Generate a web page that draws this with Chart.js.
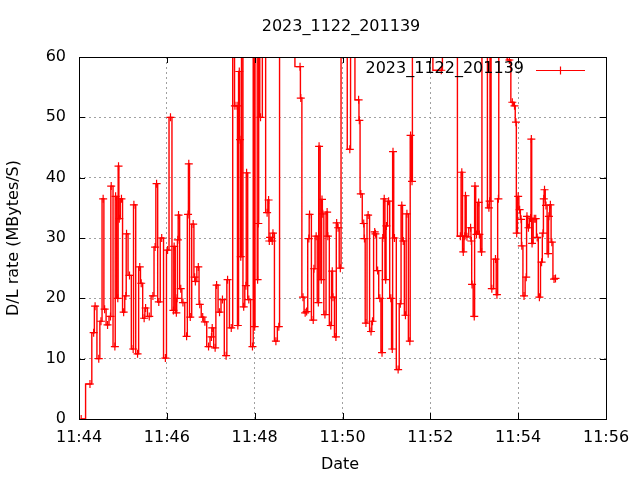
<!DOCTYPE html>
<html>
<head>
<meta charset="utf-8">
<script src="https://cdn.jsdelivr.net/npm/chart.js@4/dist/chart.umd.min.js"></script>
<style>
  html, body { margin: 0; padding: 0; background: #fff; }
  #wrap { width: 640px; height: 480px; }
</style>
</head>
<body>
<div id="wrap"><canvas id="c" width="640" height="480"></canvas></div>
<script>
// gnuplot-style throughput plot, one run

const TITLE = '2023_1122_201139';
const X_TICK_LABELS = ['11:44', '11:46', '11:48', '11:50', '11:52', '11:54', '11:56'];
const Y_TICKS = [0, 10, 20, 30, 40, 50, 60];

// seconds after 11:44:00
const times = [
  3, 15, 20, 22, 27, 30, 33, 35, 39, 43, 44, 49, 50, 53, 54, 55, 58, 61, 64, 65,
  69, 74, 75, 80, 83, 85, 89, 91, 96, 101, 104, 106, 109, 113, 118, 121, 125, 129, 130, 133,
  134, 135, 136, 139, 142, 147, 149, 150, 152, 156, 158, 159, 163, 165, 169, 172, 177, 181, 182, 186,
  188, 192, 196, 201, 203, 208, 212, 213, 216, 217, 219, 220, 221, 223, 225, 228, 229, 232, 237, 239,
  240, 241, 242, 243, 244, 245, 246, 248, 253, 257, 259, 260, 261, 264, 265, 269, 273, 275, 288, 302,
  303, 306, 309, 311, 314, 315, 320, 321, 324, 327, 328, 331, 332, 333, 336, 339, 340, 344, 346, 347,
  351, 352, 354, 357, 359, 363, 370, 372, 382, 383, 385, 389, 390, 392, 395, 399, 401, 404, 405, 408,
  411, 414, 415, 417, 419, 420, 423, 426, 428, 429, 431, 436, 439, 441, 443, 446, 448, 452, 453, 455,
  456, 472, 495, 498, 513, 521, 523, 525, 527, 528, 530, 535, 536, 537, 540, 541, 543, 546, 547, 550,
  551, 556, 560, 561, 562, 564, 569, 571, 573, 574, 582, 588, 592, 595, 597, 598, 600, 602, 604, 605,
  608, 611, 612, 614, 617, 618, 619, 622, 624, 626, 629, 632, 634, 635, 636, 638, 641, 642, 644, 646,
  649, 651,
];

// MBytes/s
const rates = [
  0, 5.8, 14.3, 18.7, 10, 16.2, 36.5, 18.2, 15.6, 17, 38.6, 12, 36.9, 20, 41.9, 33.2, 36.5, 17.7, 20.4, 30.7,
  23.8, 11.6, 35.5, 10.8, 25.2, 22.5, 16.7, 18.4, 17, 20.4, 28.5, 39, 19.4, 30, 10.1, 28, 50, 18, 28.6, 17.6,
  20, 29.7, 33.8, 21.6, 19.3, 13.7, 33.9, 42.3, 16.9, 32.3, 23.5, 22.8, 25.2, 19, 16.9, 16.1, 12, 13.6, 15.1, 11.8,
  22.2, 17.7, 19.8, 10.5, 23.1, 15.1, 75, 51.9, 51.9, 15.5, 57.6, 46.3, 26.9, 80, 18.6, 22.1, 40.8, 19.8, 12, 90,
  15.3, 85, 70, 95, 23.1, 32.4, 80, 50, 75, 34.2, 36.3, 29.5, 30.1, 29.5, 30.8, 12.9, 15.3, 80, 75, 58.4,
  53.2, 20.2, 17.6, 17.8, 29.9, 33.9, 16.4, 24.9, 30.3, 19.3, 45.2, 23.1, 36.4, 34, 17.3, 34.3, 30.3, 15.5, 24.5, 20.2,
  13.6, 32.5, 31.7, 25, 80, 90, 44.7, 75, 52.9, 49.5, 37.3, 32.4, 29.9, 15.9, 33.8, 14.5, 16.2, 31, 30.7, 24.6,
  20, 11, 30, 36.5, 23.1, 32, 36.1, 20, 11.6, 44.3, 30, 8.2, 19.1, 35.4, 29.5, 17.2, 34, 12.9, 47, 39.4,
  75, 80, 57.8, 75, 80, 30.3, 40.9, 27.7, 30.3, 37, 30.2, 31.7, 29.5, 22.3, 17, 38.6, 30.6, 35.9, 30.6, 27.7,
  85, 80, 35, 36.1, 75, 21.6, 26.5, 20.6, 36.5, 80, 85, 59.5, 52.5, 51.9, 49.2, 30.8, 36.9, 34.7, 33.1, 28.7,
  20.4, 23.5, 33.6, 31.7, 33.3, 46.4, 29.1, 33.2, 33.2, 30.1, 20.2, 26, 30.8, 36.5, 38, 35.4, 27.4, 33.6, 35.5, 29.3,
  23.2, 23.3,
];

const FONT = 'DejaVu Sans, sans-serif';
const RED = '#ff0000';
const GRID = '#a0a0a0';

const gnuplotFrame = {
  id: 'gnuplotFrame',
  beforeDraw(chart) {
    const ctx = chart.ctx;
    ctx.save();
    ctx.fillStyle = '#fff';
    ctx.fillRect(0, 0, chart.width, chart.height);
    ctx.restore();
  },
  afterDatasetsDraw(chart) {
    const { ctx, chartArea: a, scales } = chart;
    ctx.save();
    ctx.strokeStyle = '#000';
    ctx.lineWidth = 1;
    ctx.beginPath();
    // inward tick marks on all four sides
    scales.x.ticks.forEach((t) => {
      const x = Math.round(scales.x.getPixelForValue(t.value)) + 0.5;
      ctx.moveTo(x, a.bottom); ctx.lineTo(x, a.bottom - 6);
      ctx.moveTo(x, a.top); ctx.lineTo(x, a.top + 6);
    });
    scales.y.ticks.forEach((t) => {
      const y = Math.round(scales.y.getPixelForValue(t.value)) + 0.5;
      ctx.moveTo(a.left, y); ctx.lineTo(a.left + 6, y);
      ctx.moveTo(a.right, y); ctx.lineTo(a.right - 6, y);
    });
    ctx.stroke();
    ctx.strokeRect(a.left + 0.5, a.top + 0.5, a.right - a.left, a.bottom - a.top);

    ctx.fillStyle = '#000';
    ctx.font = '16px ' + FONT;
    ctx.textBaseline = 'middle';

    ctx.textAlign = 'center';
    ctx.fillText(TITLE, 341, 27);
    ctx.fillText('Date', 340, 465);

    ctx.save();
    ctx.translate(14, 238);
    ctx.rotate(-Math.PI / 2);
    ctx.fillText('D/L rate (MBytes/S)', 0, 0);
    ctx.restore();

    // key, top right inside the plot
    ctx.textAlign = 'right';
    ctx.fillText(TITLE, 524, 69);
    ctx.strokeStyle = RED;
    ctx.lineWidth = 1.2;
    ctx.beginPath();
    ctx.moveTo(536, 70.5); ctx.lineTo(585, 70.5);
    ctx.moveTo(560.5, 66.5); ctx.lineTo(560.5, 74.5);
    ctx.stroke();
    ctx.restore();
  },
};

new Chart(document.getElementById('c'), {
  type: 'line',
  data: {
    datasets: [{
      label: TITLE,
      data: times.map((t, i) => ({ x: t, y: rates[i] })),
      borderColor: RED,
      backgroundColor: RED,
      borderWidth: 1.4,
      stepped: 'middle',
      pointStyle: 'cross',
      pointRadius: 4,
      pointBorderWidth: 1.2,
      pointBorderColor: RED,
      fill: false,
    }],
  },
  options: {
    responsive: false,
    animation: false,
    events: [],
    layout: { padding: { top: 57, right: 34, left: 0, bottom: 0 } },
    plugins: { legend: { display: false }, title: { display: false }, tooltip: { enabled: false } },
    scales: {
      x: {
        type: 'linear', min: 0, max: 720,
        afterFit: (s) => { s.height = 61; },
        afterBuildTicks: (s) => { s.ticks = X_TICK_LABELS.map((_, i) => ({ value: i * 120 })); },
        ticks: {
          color: '#000', font: { family: FONT, size: 16 }, padding: 9, maxRotation: 0,
          callback: (v) => X_TICK_LABELS[Math.round(v / 120)],
        },
        grid: { color: GRID, drawTicks: false },
        border: { display: false, dash: [2, 3] },
      },
      y: {
        min: 0, max: 60,
        afterFit: (s) => { s.width = 79; },
        afterBuildTicks: (s) => { s.ticks = Y_TICKS.map((v) => ({ value: v })); },
        ticks: { color: '#000', font: { family: FONT, size: 16 }, padding: 13 },
        grid: { color: GRID, drawTicks: false },
        border: { display: false, dash: [2, 3] },
      },
    },
  },
  plugins: [gnuplotFrame],
});
</script>
</body>
</html>
